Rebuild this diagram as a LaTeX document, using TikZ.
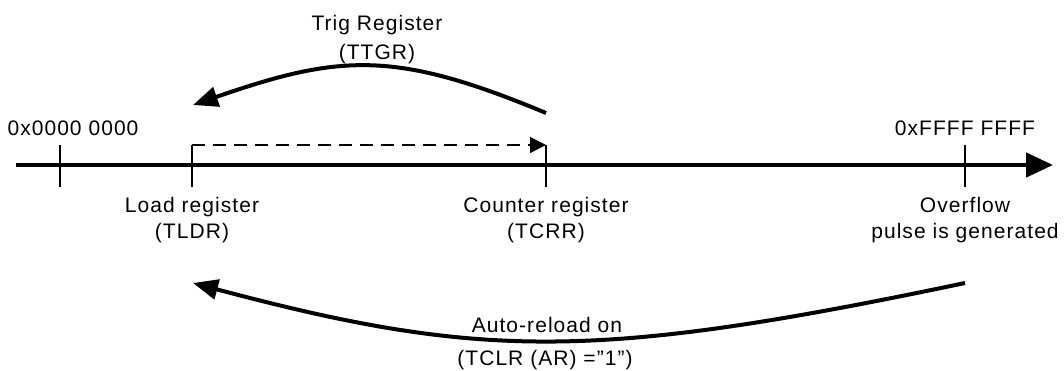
\documentclass[tikz,border=0pt]{standalone}
\usepackage{fontspec}
\setmainfont[LetterSpace=5]{Liberation Sans}
\usepackage{tikz}
\usetikzlibrary{arrows.meta,positioning}
\tikzset{
  lbl/.style  ={font=\fontsize{10.5}{13}\selectfont,align=center,inner sep=0pt},
  axisln/.style={line width=2.4pt,-{Triangle[length=13.5pt,width=12pt]}},
  tck/.style  ={line width=0.8pt},
  curv/.style ={line width=2pt,-{Triangle[length=12.5pt,width=10pt]}},
  dsh/.style  ={line width=0.6pt,dash pattern=on 6.5pt off 4pt,
                -{Triangle[length=8pt,width=8pt]}},
}
\begin{document}
\begin{tikzpicture}[x=0.5pt,y=-0.5pt]
\useasboundingbox (0,0) rectangle (1064,370);
\def\yA{165}    % the counting axis
\def\yT{145}    % top of the ticks

% axis and ticks
\coordinate (axS) at (16,\yA);
\coordinate (axE) at (1053,\yA);
\draw[axisln] (axS) -- (axE);
\foreach \n/\x in {zero/60,ldr/192,crr/546,ovf/965}
  \draw[tck] (\x,\yT) coordinate (top-\n) -- (\x,187) coordinate (bot-\n);

\node[lbl,anchor=base] (lzero) at (73,135) {0x0000 0000};
\node[lbl,anchor=base] (lmax) at (965,135) {0xFFFF FFFF};

\node[lbl,anchor=north] (lldr) at (192,197) {Load register\\(TLDR)};
\node[lbl,anchor=north] (lcrr) at (546,197) {Counter register\\(TCRR)};
\node[lbl,anchor=north] (lovf) at (965,197) {Overflow\\pulse is generated};

% counting from load value up to the counter value
\draw[dsh] (top-ldr) -- (top-crr);

% trig register: back to the load value
\coordinate (trS) at (546,113);
\coordinate (trE) at (193,105);
\draw[curv] (trS) .. controls (395,50) and (340,54) .. (trE);
\node[lbl,anchor=north,font=\fontsize{10.5}{14.5}\selectfont] (ltrg) at (377,15)
  {Trig Register\\(TTGR)};

% auto-reload after overflow
\coordinate (arS) at (965,283);
\coordinate (arE) at (193,283);
\draw[curv] (arS) .. controls (598,360) and (482,360) .. (arE);
\node[lbl,anchor=base] (lar) at (547,332) {Auto-reload on};
\node[lbl,anchor=base] (lartc) at (545,365) {(TCLR (AR) =”1”)};
\end{tikzpicture}
\end{document}
